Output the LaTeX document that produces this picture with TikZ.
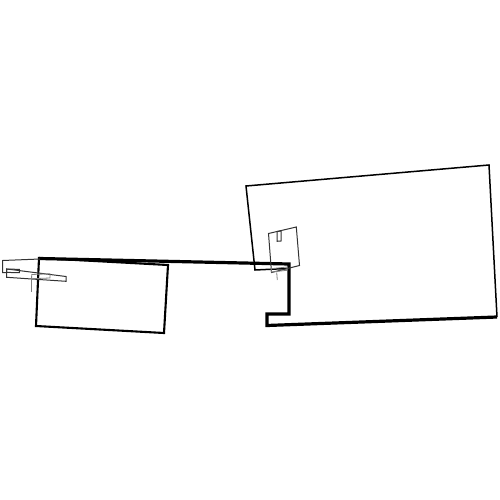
\documentclass[tikz,border=0pt]{standalone}
\begin{document}
\begin{tikzpicture}[x=1pt,y=-1pt,line join=miter,
  heavy/.style={draw=black,line width=3.2pt},
  medium/.style={draw=black,line width=2.1pt},
  light/.style={draw=black,line width=1.5pt},
  faint/.style={draw=black!80,line width=1pt},
  fainter/.style={draw=black!50,line width=0.8pt}]
\useasboundingbox (0,0) rectangle (500,500);
% left box
\draw[medium] (39,258) -- (168,265) -- (164,333) -- (36,326) -- cycle;
% big box (thin part)
\draw[light] (287,268.5) -- (255,270) -- (246,186) -- (489,165) -- (497,317);
% thick connector/outline
\draw[heavy] (39,258.5) -- (289,264) -- (289,314) -- (267,314) -- (267,325.5) -- (497,317);
% left cluster
\draw[faint] (40,259) -- (2.7,260.5) -- (2.7,272.7) -- (6.7,272.7);
\draw[faint] (6.7,269) -- (66,276.5) -- (66,281.3) -- (6.7,277.3) -- cycle;
\draw[faint] (6.7,269) -- (19.3,269.4) -- (19.3,272.7) -- (6.7,272.4) -- cycle;
\draw[fainter] (31.7,274.5) -- (50,273.8) -- (50,278) -- (31.7,278.7) -- cycle;
\draw[fainter] (31.7,276) -- (31.7,292);
% right cluster
\draw[faint] (268.5,233.5) -- (296.3,227) -- (299.5,265.5) -- (271.5,272.5) -- cycle;
\draw[faint] (277,231.5) -- (281,231) -- (281,241) -- (277,241.3) -- cycle;
\draw[fainter] (271,268.7) -- (287,267) -- (287,270.3) -- (271.5,272) -- cycle;
\draw[fainter] (276.7,272.5) -- (277.3,280);
\end{tikzpicture}
\end{document}
